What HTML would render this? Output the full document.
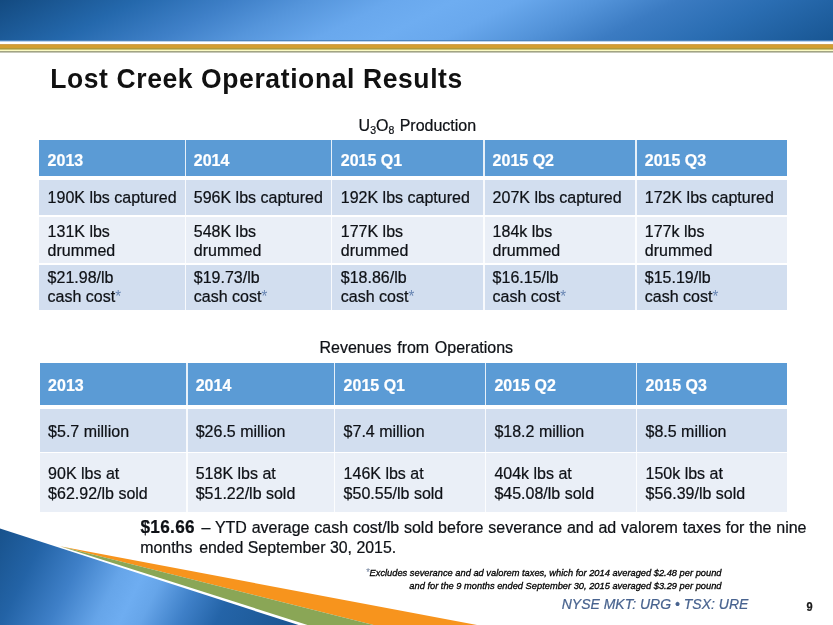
<!DOCTYPE html>
<html lang="en"><head><meta charset="utf-8"><title>Lost Creek Operational Results</title>
<style>
html,body{margin:0;padding:0;background:#fff;}
body{width:833px;height:625px;position:relative;overflow:hidden;font-family:"Liberation Sans", Arial, sans-serif;color:#111;}
.abs{position:absolute;}
.cell{position:absolute;}
.t{position:absolute;white-space:pre;color:#0e1116;-webkit-text-stroke:0.22px currentColor;transform:scaleY(1.060);transform-origin:0 0;}
.h{font-weight:bold;color:#fff;}
.ast{color:#6a87b4;font-size:15px;-webkit-text-stroke:0;}
sub{font-size:10.5px;vertical-align:baseline;position:relative;top:3px;line-height:0;}
</style></head><body>
<div class="abs" style="left:0;top:0;width:833px;height:40px;background:linear-gradient(153deg,#134a80 0%,#2468ac 15%,#3f80c8 26%,#5595db 34%,#69a8ed 43%,#6eadf1 50%,#69a8ed 57%,#5393d9 66%,#3b7bc2 74.5%,#2a6db2 85%,#185693 100%);"></div>
<div class="abs" style="left:0;top:40px;width:833px;height:1px;background:#4d84bd;"></div>
<div class="abs" style="left:0;top:41px;width:833px;height:1px;background:#bcd3ec;"></div>
<div class="abs" style="left:0;top:44px;width:833px;height:1px;background:#d3a24e;"></div>
<div class="abs" style="left:0;top:45px;width:833px;height:3px;background:#d39e30;"></div>
<div class="abs" style="left:0;top:48px;width:833px;height:1px;background:#b09a3a;"></div>
<div class="abs" style="left:0;top:49px;width:833px;height:1px;background:#cdc476;"></div>
<div class="abs" style="left:0;top:50px;width:833px;height:1px;background:#fbfac4;"></div>
<div class="abs" style="left:0;top:51px;width:833px;height:1px;background:#a2a484;"></div>
<div class="abs" style="left:0;top:52px;width:833px;height:1px;background:#c6c8b8;"></div>
<svg class="abs" style="left:0;top:500px" width="833" height="125" viewBox="0 500 833 125">
<defs><linearGradient id="bg" gradientUnits="userSpaceOnUse" x1="0" y1="528" x2="277.2" y2="666.6"><stop offset="0" stop-color="#18528c"/><stop offset="0.14" stop-color="#2363a6"/><stop offset="0.28" stop-color="#3f80c8"/><stop offset="0.41" stop-color="#66a5e9"/><stop offset="0.48" stop-color="#6eadf1"/><stop offset="0.54" stop-color="#66a5e9"/><stop offset="0.65" stop-color="#3f80c8"/><stop offset="0.76" stop-color="#2464a8"/><stop offset="1" stop-color="#1a5590"/></linearGradient></defs>
<polygon points="60,546.3 477,625 373.6,625" fill="#f7941d"/>
<polygon points="60,546.3 373.6,625 307.5,625" fill="#8aa656"/>
<polygon points="0,528.6 298.5,625 0,625" fill="url(#bg)"/>
</svg>
<div class="abs" style="left:50.2px;top:63px;white-space:pre;font-size:26.5px;line-height:32px;font-weight:bold;letter-spacing:0.6px;color:#111;transform:scaleY(1.055);transform-origin:0 25.18px;">Lost Creek Operational Results</div>
<div class="t " style="left:358.60px;top:115.52px;font-size:16px;line-height:18.113px;word-spacing:0.9px;">U<sub>3</sub>O<sub>8</sub> Production</div>
<div class="t " style="left:319.50px;top:338.02px;font-size:16px;line-height:18.113px;word-spacing:1.2px;">Revenues from Operations</div>
<div class="cell" style="left:39.00px;top:140.20px;width:748.30px;height:35.50px;background:#5b9bd5;"></div>
<div class="cell" style="left:39.00px;top:179.50px;width:748.30px;height:35.60px;background:#d2deef;"></div>
<div class="cell" style="left:39.00px;top:216.50px;width:748.30px;height:46.90px;background:#eaeff7;"></div>
<div class="cell" style="left:39.00px;top:264.60px;width:748.30px;height:45.10px;background:#d2deef;"></div>
<div class="cell" style="left:184.55px;top:140.20px;width:1.30px;height:169.50px;background:rgba(255,255,255,0.85);"></div>
<div class="cell" style="left:331.05px;top:140.20px;width:1.30px;height:169.50px;background:rgba(255,255,255,0.85);"></div>
<div class="cell" style="left:483.35px;top:140.20px;width:1.30px;height:169.50px;background:rgba(255,255,255,0.85);"></div>
<div class="cell" style="left:635.35px;top:140.20px;width:1.30px;height:169.50px;background:rgba(255,255,255,0.85);"></div>
<div class="t h" style="left:47.60px;top:150.72px;font-size:16px;line-height:18.113px;">2013</div>
<div class="t h" style="left:193.80px;top:150.72px;font-size:16px;line-height:18.113px;">2014</div>
<div class="t h" style="left:340.80px;top:150.72px;font-size:16px;line-height:18.113px;">2015 Q1</div>
<div class="t h" style="left:492.60px;top:150.72px;font-size:16px;line-height:18.113px;">2015 Q2</div>
<div class="t h" style="left:644.80px;top:150.72px;font-size:16px;line-height:18.113px;">2015 Q3</div>
<div class="t " style="left:47.60px;top:188.12px;font-size:16px;line-height:18.113px;">190K lbs captured</div>
<div class="t " style="left:193.80px;top:188.12px;font-size:16px;line-height:18.113px;">596K lbs captured</div>
<div class="t " style="left:340.80px;top:188.12px;font-size:16px;line-height:18.113px;">192K lbs captured</div>
<div class="t " style="left:492.60px;top:188.12px;font-size:16px;line-height:18.113px;">207K lbs captured</div>
<div class="t " style="left:644.80px;top:188.12px;font-size:16px;line-height:18.113px;">172K lbs captured</div>
<div class="t " style="left:47.60px;top:221.72px;font-size:16px;line-height:18.113px;">131K lbs<br>drummed</div>
<div class="t " style="left:193.80px;top:221.72px;font-size:16px;line-height:18.113px;">548K lbs<br>drummed</div>
<div class="t " style="left:340.80px;top:221.72px;font-size:16px;line-height:18.113px;">177K lbs<br>drummed</div>
<div class="t " style="left:492.60px;top:221.72px;font-size:16px;line-height:18.113px;">184k lbs<br>drummed</div>
<div class="t " style="left:644.80px;top:221.72px;font-size:16px;line-height:18.113px;">177k lbs<br>drummed</div>
<div class="t " style="left:47.60px;top:267.92px;font-size:16px;line-height:18.113px;">$21.98/lb<br>cash cost<span class="ast">*</span></div>
<div class="t " style="left:193.80px;top:267.92px;font-size:16px;line-height:18.113px;">$19.73/lb<br>cash cost<span class="ast">*</span></div>
<div class="t " style="left:340.80px;top:267.92px;font-size:16px;line-height:18.113px;">$18.86/lb<br>cash cost<span class="ast">*</span></div>
<div class="t " style="left:492.60px;top:267.92px;font-size:16px;line-height:18.113px;">$16.15/lb<br>cash cost<span class="ast">*</span></div>
<div class="t " style="left:644.80px;top:267.92px;font-size:16px;line-height:18.113px;">$15.19/lb<br>cash cost<span class="ast">*</span></div>
<div class="cell" style="left:39.60px;top:362.50px;width:747.70px;height:42.90px;background:#5b9bd5;"></div>
<div class="cell" style="left:39.60px;top:409.40px;width:747.70px;height:42.30px;background:#d2deef;"></div>
<div class="cell" style="left:39.60px;top:453.10px;width:747.70px;height:58.70px;background:#eaeff7;"></div>
<div class="cell" style="left:186.35px;top:362.50px;width:1.30px;height:149.30px;background:rgba(255,255,255,0.85);"></div>
<div class="cell" style="left:333.75px;top:362.50px;width:1.30px;height:149.30px;background:rgba(255,255,255,0.85);"></div>
<div class="cell" style="left:485.05px;top:362.50px;width:1.30px;height:149.30px;background:rgba(255,255,255,0.85);"></div>
<div class="cell" style="left:636.05px;top:362.50px;width:1.30px;height:149.30px;background:rgba(255,255,255,0.85);"></div>
<div class="t h" style="left:48.10px;top:376.12px;font-size:16px;line-height:18.113px;">2013</div>
<div class="t h" style="left:195.70px;top:376.12px;font-size:16px;line-height:18.113px;">2014</div>
<div class="t h" style="left:343.60px;top:376.12px;font-size:16px;line-height:18.113px;">2015 Q1</div>
<div class="t h" style="left:494.40px;top:376.12px;font-size:16px;line-height:18.113px;">2015 Q2</div>
<div class="t h" style="left:645.50px;top:376.12px;font-size:16px;line-height:18.113px;">2015 Q3</div>
<div class="t " style="left:48.10px;top:421.92px;font-size:16px;line-height:18.113px;">$5.7 million</div>
<div class="t " style="left:195.70px;top:421.92px;font-size:16px;line-height:18.113px;">$26.5 million</div>
<div class="t " style="left:343.60px;top:421.92px;font-size:16px;line-height:18.113px;">$7.4 million</div>
<div class="t " style="left:494.40px;top:421.92px;font-size:16px;line-height:18.113px;">$18.2 million</div>
<div class="t " style="left:645.50px;top:421.92px;font-size:16px;line-height:18.113px;">$8.5 million</div>
<div class="t " style="left:48.10px;top:464.07px;font-size:16px;line-height:18.585px;">90K lbs at<br>$62.92/lb sold</div>
<div class="t " style="left:195.70px;top:464.07px;font-size:16px;line-height:18.585px;">518K lbs at<br>$51.22/lb sold</div>
<div class="t " style="left:343.60px;top:464.07px;font-size:16px;line-height:18.585px;">146K lbs at<br>$50.55/lb sold</div>
<div class="t " style="left:494.40px;top:464.07px;font-size:16px;line-height:18.585px;">404k lbs at<br>$45.08/lb sold</div>
<div class="t " style="left:645.50px;top:464.07px;font-size:16px;line-height:18.585px;">150k lbs at<br>$56.39/lb sold</div>
<div class="t " style="left:140.50px;top:517.92px;font-size:16px;line-height:18.113px;width:666px;white-space:normal;text-align:justify;text-align-last:justify;"><span style="font-weight:bold;font-size:17.2px;line-height:10px;letter-spacing:0.3px;margin-right:1.8px;">$16.66</span> – YTD average cash cost/lb sold before severance and ad valorem taxes for the nine</div>
<div class="t " style="left:140.30px;top:537.56px;font-size:15.9px;line-height:18.113px;">months<span style="margin-left:2.3px"> </span>ended September 30, 2015.</div>
<div class="t " style="right:111.50px;top:566.28px;font-size:9.3px;line-height:12.642px;font-style:italic;text-align:right;color:#000;-webkit-text-stroke:0.3px #000;transform-origin:100% 0;"><span class="ast" style="color:#74849f;font-size:9.8px;">*</span>Excludes severance and ad valorem taxes, which for 2014 averaged $2.48 per pound<br>and for the 9 months ended September 30, 2015 averaged $3.29 per pound</div>
<div class="t " style="left:561.70px;top:596.05px;font-size:14px;line-height:16.000px;font-style:italic;color:#48638f;transform:scaleY(1.000);">NYSE MKT: URG • TSX: URE</div>
<div class="t " style="left:806.60px;top:600.81px;font-size:11px;line-height:10.909px;font-weight:bold;color:#1a1a1a;transform:scaleY(1.100);">9</div>
</body></html>
